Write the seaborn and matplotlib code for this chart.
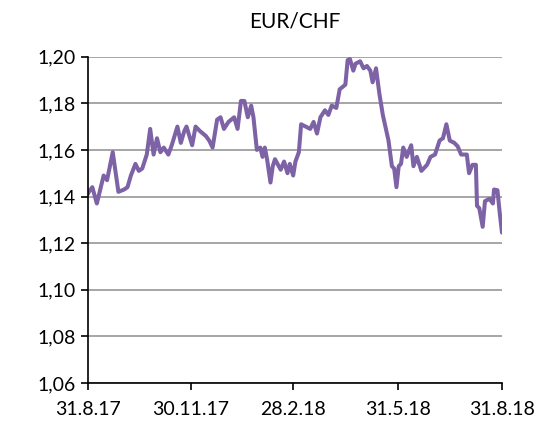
import pandas as pd
import matplotlib
matplotlib.use("Agg")
import matplotlib.pyplot as plt
from matplotlib.ticker import FuncFormatter
import seaborn as sns

# EUR/CHF Kurs
dates = [
    "2017-08-31", "2017-09-01", "2017-09-04", "2017-09-08", "2017-09-11", "2017-09-14",
    "2017-09-17", "2017-09-22", "2017-09-27", "2017-10-02", "2017-10-05", "2017-10-08",
    "2017-10-12", "2017-10-15", "2017-10-18", "2017-10-22", "2017-10-25", "2017-10-28",
    "2017-10-31", "2017-11-03", "2017-11-06", "2017-11-10", "2017-11-13", "2017-11-18",
    "2017-11-21", "2017-11-24", "2017-11-26", "2017-12-01", "2017-12-04", "2017-12-08",
    "2017-12-13", "2017-12-16", "2017-12-19", "2017-12-23", "2017-12-26", "2017-12-29",
    "2018-01-02", "2018-01-07", "2018-01-10", "2018-01-13", "2018-01-16", "2018-01-19",
    "2018-01-22", "2018-01-24", "2018-01-27", "2018-01-30", "2018-02-01", "2018-02-03",
    "2018-02-05", "2018-02-08", "2018-02-10", "2018-02-12", "2018-02-17", "2018-02-20",
    "2018-02-23", "2018-02-25", "2018-02-28", "2018-03-02", "2018-03-05", "2018-03-07",
    "2018-03-11", "2018-03-15", "2018-03-18", "2018-03-21", "2018-03-24", "2018-03-28",
    "2018-03-31", "2018-04-03", "2018-04-07", "2018-04-10", "2018-04-15", "2018-04-17",
    "2018-04-19", "2018-04-22", "2018-04-24", "2018-04-28", "2018-05-01", "2018-05-04",
    "2018-05-07", "2018-05-09", "2018-05-12", "2018-05-15", "2018-05-18", "2018-05-23",
    "2018-05-26", "2018-05-28", "2018-05-30", "2018-06-01", "2018-06-03", "2018-06-05",
    "2018-06-08", "2018-06-12", "2018-06-14", "2018-06-17", "2018-06-21", "2018-06-26",
    "2018-06-29", "2018-07-03", "2018-07-07", "2018-07-10", "2018-07-13", "2018-07-16",
    "2018-07-20", "2018-07-23", "2018-07-26", "2018-07-31", "2018-08-02", "2018-08-05",
    "2018-08-08", "2018-08-09", "2018-08-11", "2018-08-14", "2018-08-16", "2018-08-20",
    "2018-08-23", "2018-08-24", "2018-08-27", "2018-08-29", "2018-08-31",
]
rates = [
    1.141, 1.142, 1.144, 1.137, 1.143, 1.149,
    1.147, 1.159, 1.142, 1.143, 1.144, 1.149,
    1.154, 1.151, 1.152, 1.158, 1.169, 1.158,
    1.165, 1.159, 1.161, 1.158, 1.162, 1.170,
    1.163, 1.168, 1.170, 1.162, 1.170, 1.168,
    1.166, 1.164, 1.161, 1.173, 1.174, 1.169,
    1.172, 1.174, 1.169, 1.181, 1.181, 1.174,
    1.179, 1.174, 1.160, 1.161, 1.157, 1.161,
    1.156, 1.146, 1.153, 1.156, 1.1515, 1.155,
    1.150, 1.154, 1.149, 1.155, 1.159, 1.171,
    1.170, 1.169, 1.172, 1.167, 1.174, 1.177,
    1.175, 1.179, 1.178, 1.186, 1.188, 1.1985,
    1.199, 1.194, 1.197, 1.198, 1.195, 1.196,
    1.194, 1.189, 1.195, 1.184, 1.175, 1.164,
    1.153, 1.152, 1.144, 1.153, 1.154, 1.161,
    1.157, 1.162, 1.153, 1.157, 1.151, 1.1536,
    1.157, 1.158, 1.164, 1.165, 1.171, 1.164,
    1.163, 1.1615, 1.158, 1.158, 1.150, 1.1536,
    1.1536, 1.136, 1.135, 1.127, 1.138, 1.139,
    1.137, 1.143, 1.1427, 1.133, 1.1245,
]
tick_dates = ["2017-08-31", "2017-11-30", "2018-02-28", "2018-05-31", "2018-08-31"]
tick_labels = ["31.8.17", "30.11.17", "28.2.18", "31.5.18", "31.8.18"]
y_ticks = [1.06, 1.08, 1.10, 1.12, 1.14, 1.16, 1.18, 1.20]

df = pd.DataFrame({"Datum": pd.to_datetime(dates), "Kurs": rates})

sns.set_style("white")
plt.rcParams["font.family"] = ["Lato", "DejaVu Sans"]

fig = plt.figure(figsize=(5.59, 4.26), dpi=100)
ax = fig.add_axes([0.157, 0.101, 0.741, 0.766])

sns.lineplot(data=df, x="Datum", y="Kurs", ax=ax, color="#7d62a6", linewidth=2.9, zorder=3)

ax.set_xlim(pd.Timestamp(tick_dates[0]), pd.Timestamp(tick_dates[-1]))
ax.set_ylim(1.06, 1.20)
ax.set_yticks(y_ticks)
ax.set_xticks(pd.to_datetime(tick_dates))
ax.set_xticklabels(tick_labels)
ax.yaxis.set_major_formatter(FuncFormatter(lambda v, p: f"{v:.2f}".replace(".", ",")))

ax.grid(axis="y", color="#a6a6a6", linewidth=1.4, zorder=0)
ax.grid(axis="x", visible=False)
for s in ["top", "right"]:
    ax.spines[s].set_visible(False)
for s in ["left", "bottom"]:
    ax.spines[s].set_color("black")
    ax.spines[s].set_linewidth(1.2)
    ax.spines[s].set_zorder(4)

ax.tick_params(axis="both", direction="out", length=5, width=1.2, color="black",
               labelsize=14, labelcolor="black", left=True, bottom=True)
ax.tick_params(axis="x", pad=8)
ax.set_xlabel("")
ax.set_ylabel("")
ax.set_title("EUR/CHF", fontsize=15, pad=21, color="black")

fig.savefig("out.png", dpi=100)
